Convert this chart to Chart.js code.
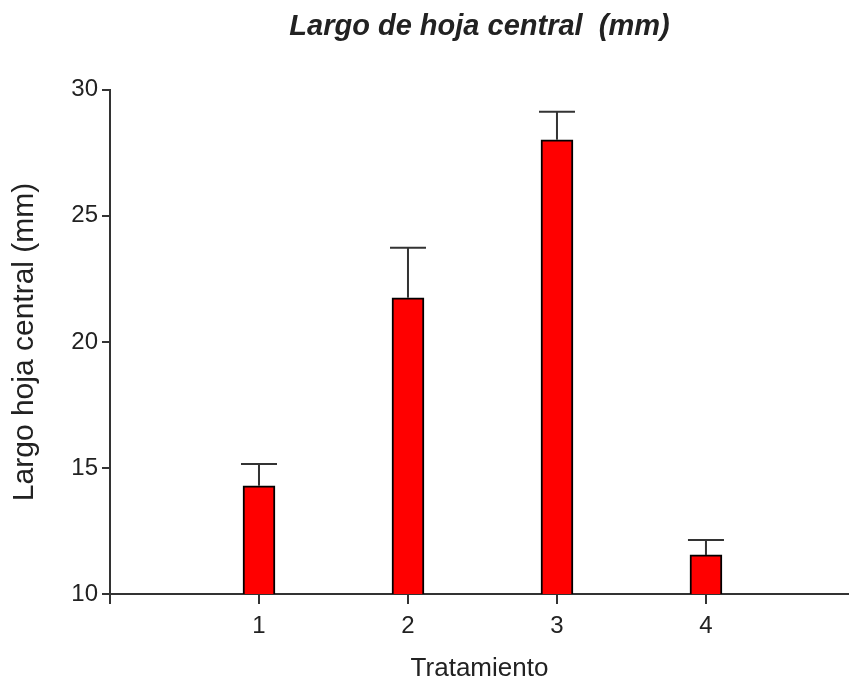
<!DOCTYPE html>
<html>
<head>
<meta charset="utf-8">
<script src="https://cdn.jsdelivr.net/npm/chart.js@4/dist/chart.umd.min.js"></script>
<style>
html,body{margin:0;padding:0;background:#fff;overflow:hidden;}
#wrap{width:849px;height:686px;}
</style>
</head>
<body>
<div id="wrap"><canvas id="c" width="849" height="686"></canvas></div>
<script>
// Data
const treatments = [1, 2, 3, 4];
const meanLength = [14.29, 21.75, 28.02, 11.55];
const seLength = [0.87, 1.98, 1.11, 0.59];
const yTicks = [10, 15, 20, 25, 30];
const xTickPositions = [0, 1, 2, 3, 4];

const FONT = '"Liberation Sans", Arial, Helvetica, sans-serif';
const AXIS = '#333333';
const TEXT = '#222222';

const errorBars = {
  id: 'errorBars',
  afterDatasetsDraw(chart) {
    const ctx = chart.ctx;
    const meta = chart.getDatasetMeta(0);
    const ys = chart.scales.y;
    ctx.save();
    ctx.strokeStyle = AXIS;
    ctx.lineWidth = 2;
    meta.data.forEach((bar, i) => {
      const x = bar.x;
      const yTop = ys.getPixelForValue(meanLength[i] + seLength[i]);
      const yBar = ys.getPixelForValue(meanLength[i]);
      ctx.beginPath();
      ctx.moveTo(x, yBar);
      ctx.lineTo(x, yTop);
      ctx.moveTo(x - 18, yTop);
      ctx.lineTo(x + 18, yTop);
      ctx.stroke();
    });
    ctx.restore();
  }
};

new Chart(document.getElementById('c'), {
  type: 'bar',
  data: {
    datasets: [{
      data: treatments.map((t, i) => ({ x: t, y: meanLength[i] })),
      backgroundColor: '#ff0000',
      borderColor: '#000000',
      borderWidth: 2,
      borderSkipped: false,
      barThickness: 32
    }]
  },
  options: {
    responsive: false,
    animation: false,
    layout: { padding: 0 },
    plugins: {
      legend: { display: false },
      tooltip: { enabled: false },
      title: {
        display: true,
        text: 'Largo de hoja central  (mm)',
        fullSize: false,
        color: TEXT,
        font: { family: FONT, size: 29, weight: 'bold', style: 'italic', lineHeight: 1.2 },
        padding: { top: 10, bottom: 45 }
      }
    },
    scales: {
      x: {
        type: 'linear',
        min: 0,
        max: 4.96,
        offset: false,
        afterBuildTicks(scale) { scale.ticks = xTickPositions.map(v => ({ value: v })); },
        afterFit(scale) { scale.height = 92; },
        grid: { display: true, drawOnChartArea: false, drawTicks: true, tickLength: 10, color: AXIS, lineWidth: 2, offset: false },
        border: { display: true, color: AXIS, width: 2 },
        ticks: {
          color: TEXT,
          font: { family: FONT, size: 24 },
          padding: 8,
          maxRotation: 0,
          autoSkip: false,
          callback: v => (v === 0 ? '' : String(v))
        },
        title: {
          display: true,
          text: 'Tratamiento',
          color: TEXT,
          font: { family: FONT, size: 26, lineHeight: 1.2 },
          padding: { top: 0, bottom: 2 }
        }
      },
      y: {
        min: 10,
        max: 30,
        afterBuildTicks(scale) { scale.ticks = yTicks.map(v => ({ value: v })); },
        afterFit(scale) { scale.width = 110; },
        grid: { display: true, drawOnChartArea: false, drawTicks: true, tickLength: 8, color: AXIS, lineWidth: 2 },
        border: { display: true, color: AXIS, width: 2 },
        ticks: {
          color: TEXT,
          font: { family: FONT, size: 24 },
          padding: 4
        },
        title: {
          display: true,
          text: 'Largo hoja central (mm)',
          color: TEXT,
          font: { family: FONT, size: 30, lineHeight: 1.2 },
          padding: { top: 7, bottom: 0 }
        }
      }
    }
  },
  plugins: [errorBars]
});
</script>
</body>
</html>
